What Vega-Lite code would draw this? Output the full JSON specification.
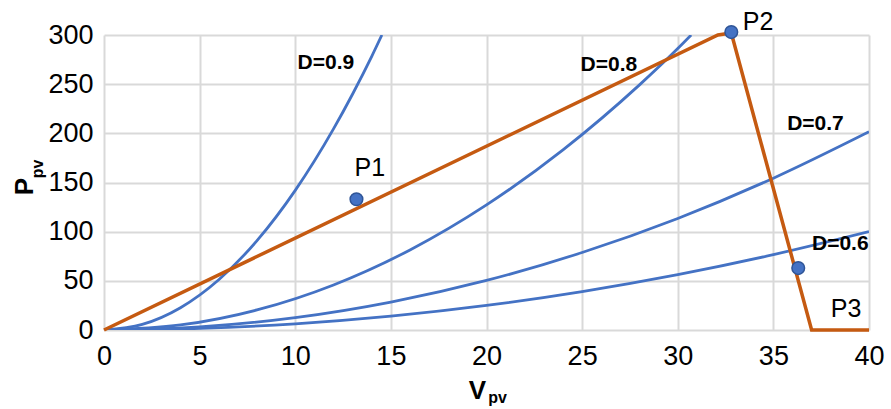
{
  "$schema": "https://vega.github.io/schema/vega-lite/v6.json",
  "width": 765,
  "height": 295,
  "autosize": {"type": "none"},
  "padding": {"left": 104, "top": 35, "right": 22, "bottom": 79},
  "background": "white",
  "config": {
    "font": "Liberation Sans",
    "view": {"stroke": null},
    "axis": {"gridColor": "#d9d9d9", "gridWidth": 2, "domain": false, "ticks": false, "labelColor": "black", "labelFontSize": 27, "labelFont": "Liberation Sans", "titleFont": "Liberation Sans", "titleColor": "black", "labelFlush": false}
  },
  "datasets": {
    "curves": [
      {"D": "0.9", "V": 0, "P": 0}, {"D": "0.9", "V": 2, "P": 5.7}, {"D": "0.9", "V": 4, "P": 22.7}, {"D": "0.9", "V": 6, "P": 51.1}, {"D": "0.9", "V": 8, "P": 90.9}, {"D": "0.9", "V": 10, "P": 142}, {"D": "0.9", "V": 12, "P": 204.5}, {"D": "0.9", "V": 13, "P": 240}, {"D": "0.9", "V": 14, "P": 278.3}, {"D": "0.9", "V": 14.53, "P": 300},
      {"D": "0.8", "V": 0, "P": 0}, {"D": "0.8", "V": 4, "P": 5.1}, {"D": "0.8", "V": 8, "P": 20.4}, {"D": "0.8", "V": 12, "P": 45.8}, {"D": "0.8", "V": 16, "P": 81.4}, {"D": "0.8", "V": 20, "P": 127.2}, {"D": "0.8", "V": 24, "P": 183.2}, {"D": "0.8", "V": 28, "P": 249.3}, {"D": "0.8", "V": 30, "P": 286.2}, {"D": "0.8", "V": 30.7, "P": 300},
      {"D": "0.7", "V": 0, "P": 0}, {"D": "0.7", "V": 5, "P": 3.2}, {"D": "0.7", "V": 10, "P": 12.6}, {"D": "0.7", "V": 15, "P": 28.4}, {"D": "0.7", "V": 20, "P": 50.4}, {"D": "0.7", "V": 25, "P": 78.8}, {"D": "0.7", "V": 30, "P": 113.4}, {"D": "0.7", "V": 35, "P": 154.4}, {"D": "0.7", "V": 40, "P": 201.6},
      {"D": "0.6", "V": 0, "P": 0}, {"D": "0.6", "V": 5, "P": 1.6}, {"D": "0.6", "V": 10, "P": 6.3}, {"D": "0.6", "V": 15, "P": 14.1}, {"D": "0.6", "V": 20, "P": 25}, {"D": "0.6", "V": 25, "P": 39.1}, {"D": "0.6", "V": 30, "P": 56.3}, {"D": "0.6", "V": 35, "P": 76.6}, {"D": "0.6", "V": 40, "P": 100}
    ],
    "pv": [
      {"V": 0, "P": 0}, {"V": 32.1, "P": 300}, {"V": 32.8, "P": 302}, {"V": 37.0, "P": 0}, {"V": 40, "P": 0}
    ],
    "dots": [
      {"name": "P1", "V": 13.2, "P": 133}, {"name": "P2", "V": 32.8, "P": 303}, {"name": "P3pt", "V": 36.3, "P": 63}
    ],
    "dlabels": [
      {"text": "D=0.9", "V": 11.6, "P": 272}, {"text": "D=0.8", "V": 26.4, "P": 269.5}, {"text": "D=0.7", "V": 37.2, "P": 209}, {"text": "D=0.6", "V": 38.5, "P": 87.5}
    ],
    "plabels": [
      {"text": "P1", "V": 13.9, "P": 164.7}, {"text": "P2", "V": 34.2, "P": 313}, {"text": "P3", "V": 38.8, "P": 21}
    ],
    "subx": [{"text": "pv", "V": 20.58, "P": -74}],
    "suby": [{"text": "pv", "V": -3.46, "P": 163.7}]
  },
  "layer": [
    {
      "data": {"name": "curves"},
      "mark": {"type": "line", "color": "#4472C4", "strokeWidth": 2.8, "clip": true, "interpolate": "monotone"},
      "encoding": {
        "x": {"field": "V", "type": "quantitative", "scale": {"domain": [0, 40], "nice": false}, "axis": {"values": [0, 5, 10, 15, 20, 25, 30, 35, 40], "labelPadding": 13, "title": "V", "titleFontSize": 26, "titleFontWeight": "bold", "titleX": 373, "titleY": 68, "titleBaseline": "alphabetic", "titleAlign": "center"}},
        "y": {"field": "P", "type": "quantitative", "scale": {"domain": [0, 300], "nice": false}, "axis": {"values": [0, 50, 100, 150, 200, 250, 300], "labelPadding": 11, "title": "P", "titleFontSize": 26, "titleFontWeight": "bold", "titleX": -72, "titleY": 151, "titleBaseline": "alphabetic", "titleAlign": "center", "titleAngle": 270}},
        "detail": {"field": "D"}
      }
    },
    {
      "data": {"name": "pv"},
      "mark": {"type": "line", "color": "#C55A11", "strokeWidth": 3.5},
      "encoding": {
        "x": {"field": "V", "type": "quantitative"},
        "y": {"field": "P", "type": "quantitative"}
      }
    },
    {
      "data": {"name": "dots"},
      "mark": {"type": "point", "shape": "circle", "filled": true, "size": 160, "color": "#4472C4", "stroke": "#2F5597", "strokeWidth": 1.5, "opacity": 1},
      "encoding": {
        "x": {"field": "V", "type": "quantitative"},
        "y": {"field": "P", "type": "quantitative"}
      }
    },
    {
      "data": {"name": "dlabels"},
      "mark": {"type": "text", "fontSize": 21, "fontWeight": "bold", "color": "black", "align": "center", "baseline": "middle"},
      "encoding": {
        "x": {"field": "V", "type": "quantitative"},
        "y": {"field": "P", "type": "quantitative"},
        "text": {"field": "text"}
      }
    },
    {
      "data": {"name": "plabels"},
      "mark": {"type": "text", "fontSize": 25, "color": "black", "align": "center", "baseline": "middle"},
      "encoding": {
        "x": {"field": "V", "type": "quantitative"},
        "y": {"field": "P", "type": "quantitative"},
        "text": {"field": "text"}
      }
    },
    {
      "data": {"name": "subx"},
      "mark": {"type": "text", "fontSize": 16, "fontWeight": "bold", "color": "black", "align": "center", "baseline": "alphabetic"},
      "encoding": {
        "x": {"field": "V", "type": "quantitative"},
        "y": {"field": "P", "type": "quantitative"},
        "text": {"field": "text"}
      }
    },
    {
      "data": {"name": "suby"},
      "mark": {"type": "text", "fontSize": 16, "fontWeight": "bold", "color": "black", "align": "center", "baseline": "middle", "angle": 270},
      "encoding": {
        "x": {"field": "V", "type": "quantitative"},
        "y": {"field": "P", "type": "quantitative"},
        "text": {"field": "text"}
      }
    }
  ]
}
